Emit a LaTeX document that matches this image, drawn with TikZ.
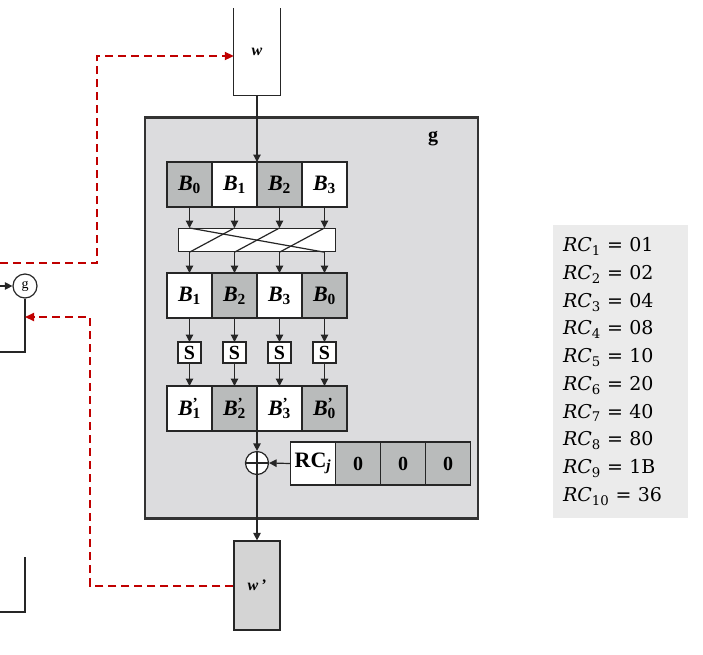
\documentclass[tikz,border=0pt]{standalone}
\usepackage{fontspec}
\setmainfont{Liberation Serif}
\newfontfamily\tablefont{DejaVu Serif}
\usetikzlibrary{positioning,arrows.meta}

\definecolor{cellgray}{RGB}{185,187,187}
\definecolor{boxgray}{RGB}{220,220,222}
\definecolor{outgray}{RGB}{212,212,212}
\definecolor{tablegray}{RGB}{235,235,235}
\definecolor{fbred}{RGB}{192,0,0}

\newcommand{\bname}[1]{\textbf{\textit{B}}\textsubscript{\textbf{#1}}}
\newcommand{\bprime}[1]{\textbf{\textit{B}}\rlap{\textsuperscript{\textbf{'}}}\textsubscript{\textbf{#1}}}
\newcommand{\rcline}[2]{\textit{RC}\textsubscript{#1} = #2}

\tikzset{
	cell/.style={draw=black!85, line width=1.2pt, outer sep=0pt, inner sep=0pt,
			minimum width=45, minimum height=45, fill=white,
			font=\fontsize{22}{26}\selectfont},
	darkcell/.style={cell, fill=cellgray},
	rccell/.style={minimum height=43},
	sbox/.style={draw=black!85, line width=1.2pt, outer sep=0pt, inner sep=0pt,
			minimum width=23, minimum height=21, fill=white,
			font=\bfseries\fontsize{20}{24}\selectfont},
	line/.style={draw=black!85, line width=1.2pt},
	arr/.style={line, -{Triangle[length=7.5pt,width=7.5pt]}},
	feedback/.style={draw=fbred, line width=2pt, dash pattern=on 8pt off 5pt,
			-{Triangle[length=9pt,width=8pt,fill=fbred]}}
}

\begin{document}
\begin{tikzpicture}[x=1pt,y=-1pt]
	\useasboundingbox (0,0) rectangle (703,654);

	% the function g
	\node[draw=black!80, line width=2.4pt, fill=boxgray,
		minimum width=333, minimum height=401] (g) at (311.5,318) {};
	\node[font=\bfseries\fontsize{20}{24}\selectfont] (glabel) at (433,139) {g};

	% input word
	\node[minimum width=46, minimum height=87, inner sep=0pt,
		font=\fontsize{16}{18}\selectfont] (w) at (257,51.5) {\textbf{\textit{w}}};
	\draw[line] (w.north west) -- (w.south west) -- (w.south east) -- (w.north east);

	% bytes of w
	\node[darkcell] (a0) at (189.5,184.5) {\bname{0}};
	\node[cell, right=0pt of a0] (a1) {\bname{1}};
	\node[darkcell, right=0pt of a1] (a2) {\bname{2}};
	\node[cell, right=0pt of a2] (a3) {\bname{3}};

	% rotation
	\node[draw=black!85, line width=1.2pt, fill=white, minimum width=157,
		minimum height=23, inner sep=0pt, below=21pt of a1.south east] (perm) {};

	\node[cell] (b0) at (189.5,295.5) {\bname{1}};
	\node[darkcell, right=0pt of b0] (b1) {\bname{2}};
	\node[cell, right=0pt of b1] (b2) {\bname{3}};
	\node[darkcell, right=0pt of b2] (b3) {\bname{0}};

	% S-boxes
	\node[sbox, below=24pt of b0] (s0) {S};
	\node[sbox, below=24pt of b1] (s1) {S};
	\node[sbox, below=24pt of b2] (s2) {S};
	\node[sbox, below=24pt of b3] (s3) {S};

	\node[cell, below=23pt of s0] (c0) {\bprime{1}};
	\node[darkcell, right=0pt of c0] (c1) {\bprime{2}};
	\node[cell, right=0pt of c1] (c2) {\bprime{3}};
	\node[darkcell, right=0pt of c2] (c3) {\bprime{0}};

	% round constant
	\node[draw=black!85, line width=1.2pt, circle, fill=white, minimum size=23,
		inner sep=0pt] (xor) at (257,463) {};
	\draw[line] (xor.north) -- (xor.south) (xor.west) -- (xor.east);

	\node[cell, rccell] (r0) at (313,463.5) {\textbf{RC}\textsubscript{\textbf{\textit{j}}}};
	\node[darkcell, rccell, right=0pt of r0, font=\bfseries\fontsize{20}{24}\selectfont] (r1) {0};
	\node[darkcell, rccell, right=0pt of r1, font=\bfseries\fontsize{20}{24}\selectfont] (r2) {0};
	\node[darkcell, rccell, right=0pt of r2, font=\bfseries\fontsize{20}{24}\selectfont] (r3) {0};

	% output word
	\node[draw=black!85, line width=1.2pt, fill=outgray, minimum width=46,
		minimum height=89, inner sep=0pt, font=\fontsize{16}{18}\selectfont]
		(wp) at (257,585.5) {\textbf{\textit{w\,'}}};

	% connections
	\draw[arr] (w.south) -- (a1.north east);
	\draw[arr] (a0.south) -- (a0 |- perm.north);
	\draw[arr] (a1.south) -- (a1 |- perm.north);
	\draw[arr] (a2.south) -- (a2 |- perm.north);
	\draw[arr] (a3.south) -- (a3 |- perm.north);
	\draw[line] (a0 |- perm.north) -- (b3 |- perm.south);
	\draw[line] (a1 |- perm.north) -- (b0 |- perm.south);
	\draw[line] (a2 |- perm.north) -- (b1 |- perm.south);
	\draw[line] (a3 |- perm.north) -- (b2 |- perm.south);
	\draw[arr] (b0 |- perm.south) -- (b0.north);
	\draw[arr] (b1 |- perm.south) -- (b1.north);
	\draw[arr] (b2 |- perm.south) -- (b2.north);
	\draw[arr] (b3 |- perm.south) -- (b3.north);
	\draw[arr] (b0.south) -- (s0.north);
	\draw[arr] (b1.south) -- (s1.north);
	\draw[arr] (b2.south) -- (s2.north);
	\draw[arr] (b3.south) -- (s3.north);
	\draw[arr] (s0.south) -- (c0.north);
	\draw[arr] (s1.south) -- (c1.north);
	\draw[arr] (s2.south) -- (c2.north);
	\draw[arr] (s3.south) -- (c3.north);
	\draw[arr] (c1.south east) -- (xor.north);
	\draw[arr] (r0.west) -- (xor.east);
	\draw[arr] (xor.south) -- (wp.north);

	% key expansion on the left
	\node[draw=black!85, line width=1.2pt, circle, fill=white, minimum size=24,
		inner sep=0pt, font=\fontsize{14}{16}\selectfont] (gc) at (25,286) {g};
	\coordinate (gin) at (0,286);
	\coordinate (gout) at (0,352);
	\draw[arr] (gin) -- (gc);
	\draw[line] (gc.south) |- (gout);
	\coordinate (stub) at (25,557);
	\coordinate (stubend) at (0,612);
	\draw[line] (stub) |- (stubend);

	% feedback
	\coordinate (fbin) at (0,263);
	\coordinate (fbup) at (97,56);
	\draw[feedback] (fbin) -| (fbup) -- (w.west |- fbup);
	\coordinate (fbdown) at (90,317);
	\draw[feedback] (wp.west) -| (fbdown) -- (gc |- fbdown);

	% round constants
	\node[fill=tablegray, minimum height=293, text width=115, inner xsep=10pt,
		align=left, font=\tablefont\fontsize{19}{27.7}\selectfont] (rc) at (620.5,371.5)
		{\rcline{1}{01}\\ \rcline{2}{02}\\ \rcline{3}{04}\\ \rcline{4}{08}\\
		\rcline{5}{10}\\ \rcline{6}{20}\\ \rcline{7}{40}\\ \rcline{8}{80}\\
		\rcline{9}{1B}\\ \rcline{10}{36}};
\end{tikzpicture}
\end{document}
